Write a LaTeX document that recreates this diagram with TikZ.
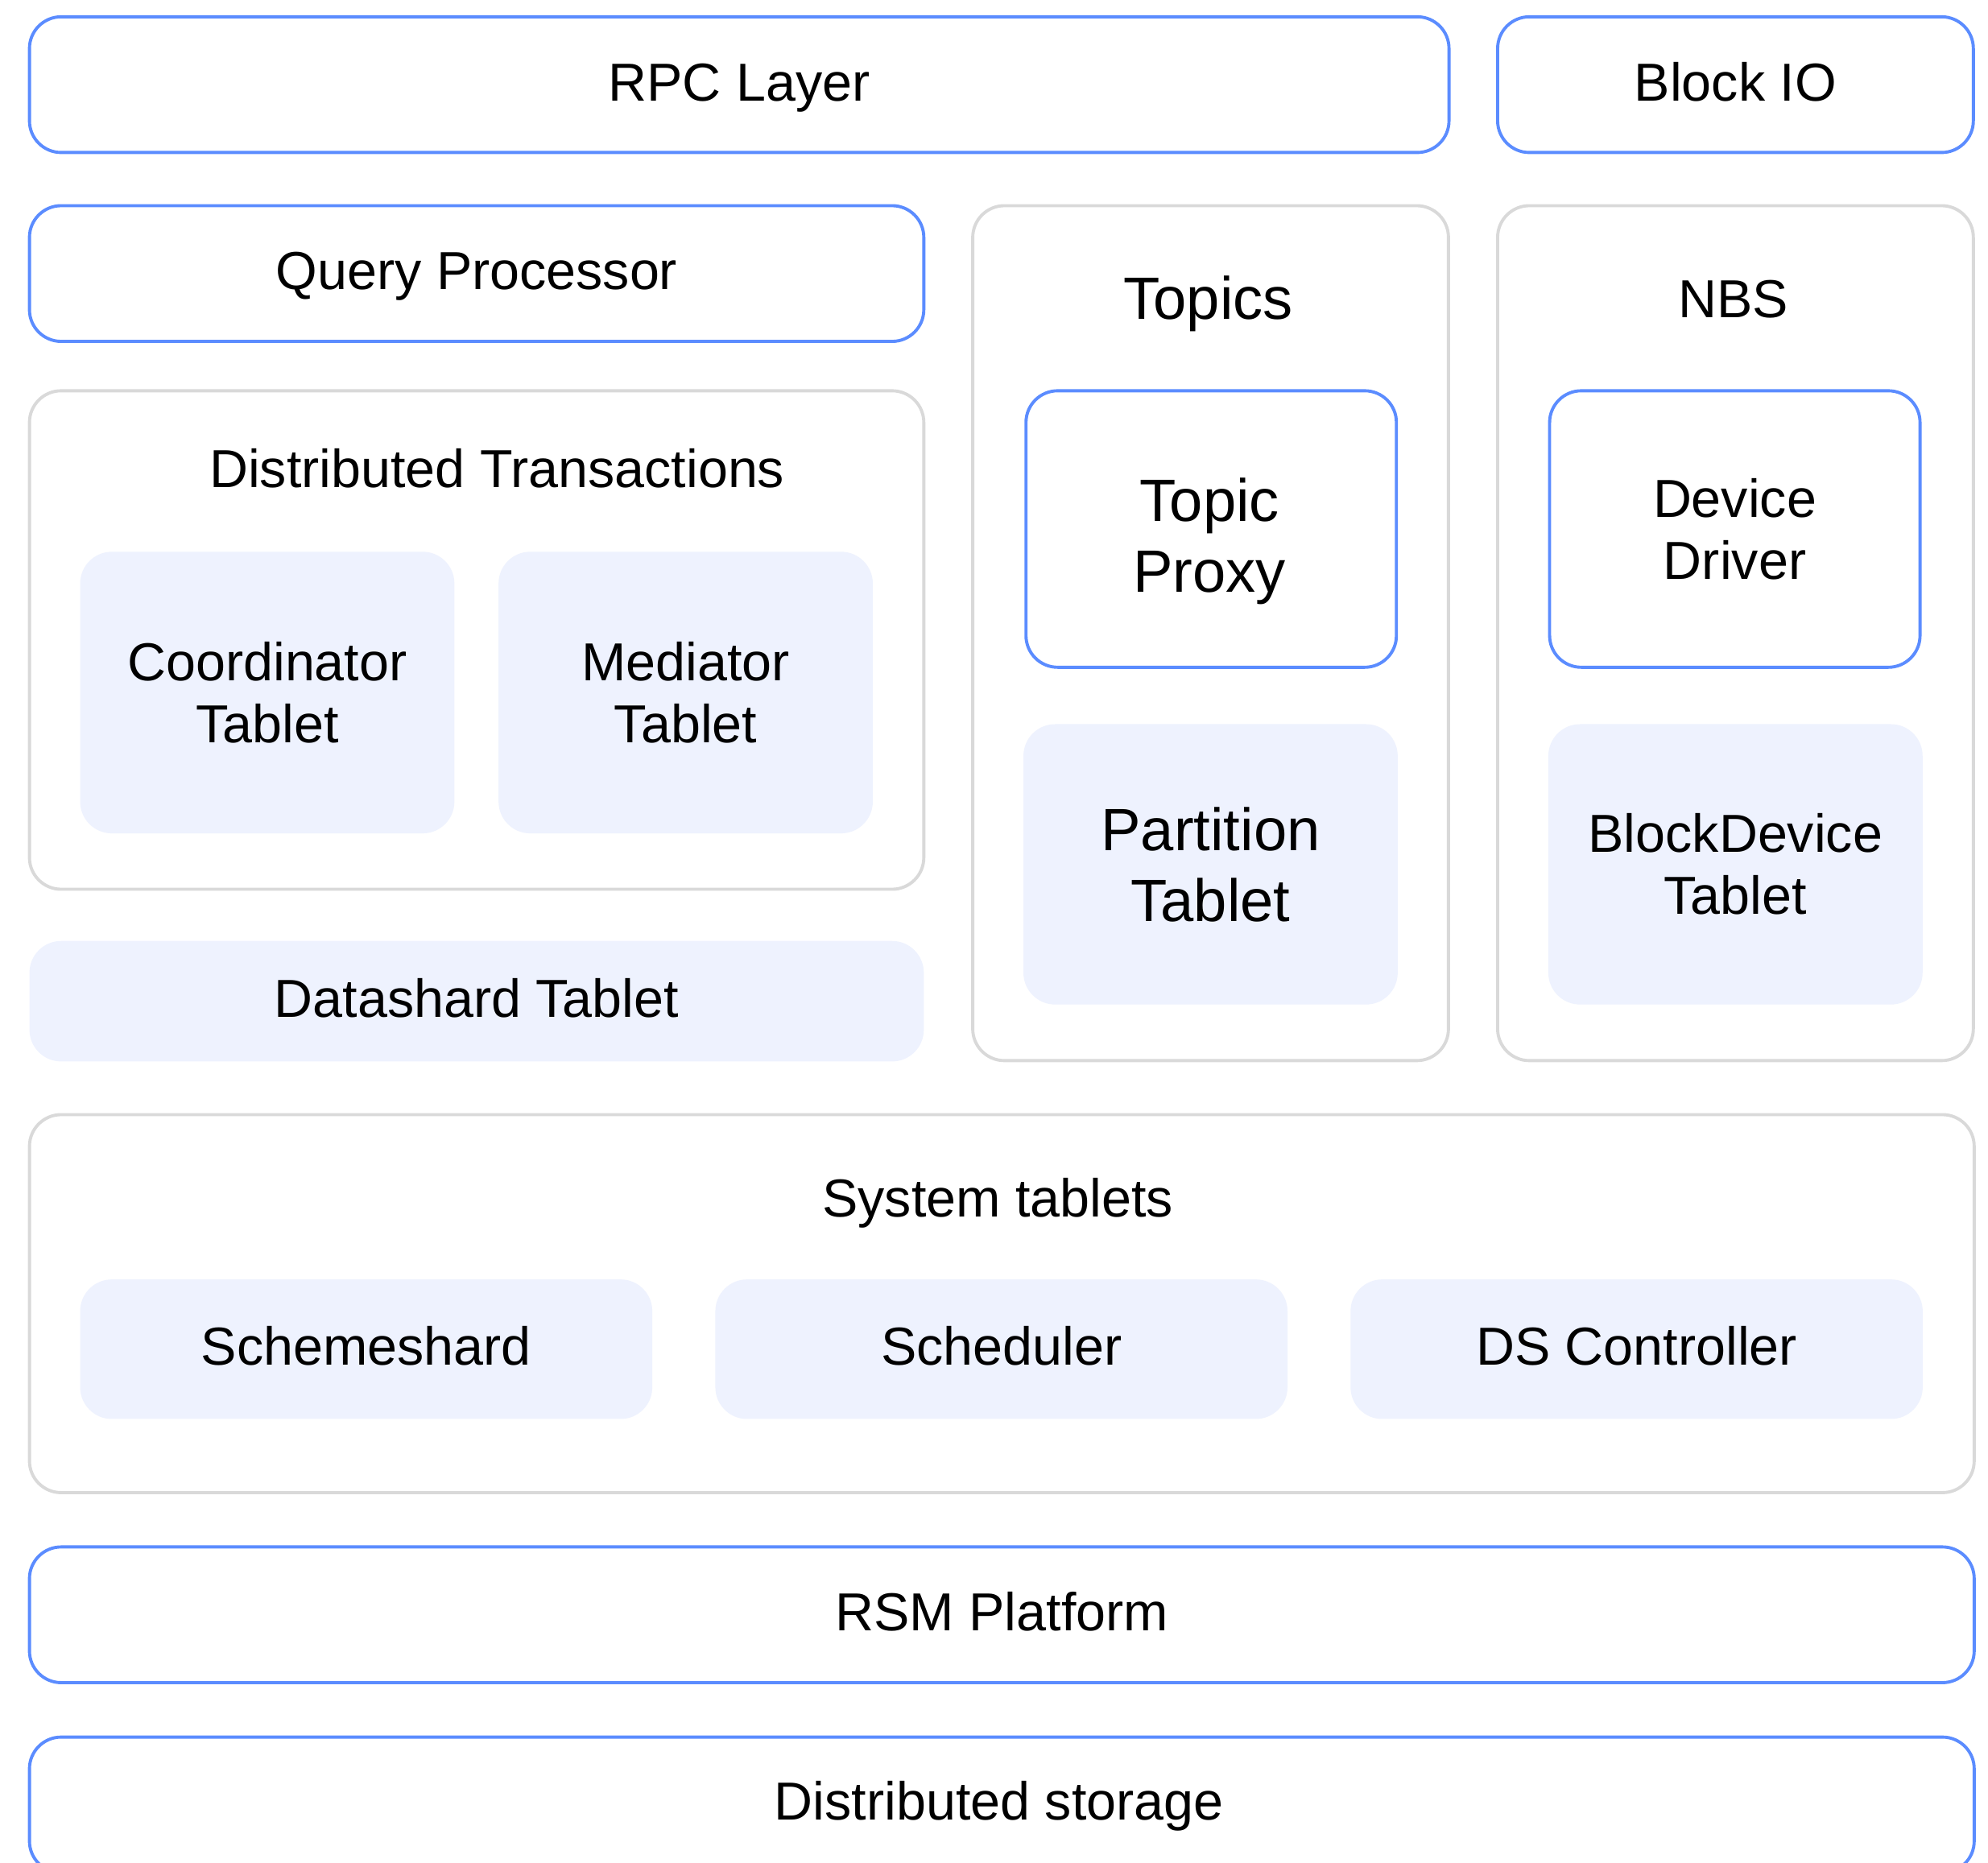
\documentclass[tikz,border=0pt]{standalone}
\usepackage{fontspec}
\setmainfont{Liberation Sans}
\definecolor{bl}{HTML}{5B8CFF}
\definecolor{gr}{HTML}{D9D9D9}
\definecolor{lf}{HTML}{EEF2FE}
\newcommand{\fsn}{\fontsize{12.0}{13.9}\selectfont}
\newcommand{\fsl}{\fontsize{13.4}{15.9}\selectfont}
\begin{document}
\begin{tikzpicture}[x=0.01cm,y=-0.01cm,
  box/.style={rectangle, rounded corners=0.25cm, anchor=north west, inner sep=0pt, line width=0.7pt, font=\fsn},
  one/.style={text height=0.9em, text depth=0.18em},
  two/.style={align=center},
  bluebox/.style={box, draw=bl, fill=white},
  graybox/.style={box, draw=gr, fill=white},
  fillbox/.style={box, fill=lf},
  ttl/.style={inner sep=0pt, font=\fsn, one},
  big/.style={font=\fsl}]
\useasboundingbox (0,0) rectangle (1568,1469);
% row 1
\node[bluebox, one, minimum width=11.19cm, minimum height=1.07cm] (rpc) at (22,12) {RPC Layer};
\node[bluebox, one, minimum width=3.75cm, minimum height=1.07cm] (blockio) at (1180,12) {Block IO};
% row 2
\node[bluebox, one, minimum width=7.05cm, minimum height=1.07cm] (qp) at (22,161) {Query Processor};
\node[graybox, minimum width=3.75cm, minimum height=6.74cm] (topics) at (766,161) {};
\node[ttl, big] (topicsT) at (953,239) {Topics};
\node[graybox, minimum width=3.75cm, minimum height=6.74cm] (nbs) at (1180,161) {};
\node[ttl] (nbsT) at (1367,238) {NBS};
% distributed transactions
\node[graybox, minimum width=7.05cm, minimum height=3.93cm] (dt) at (22,307) {};
\node[ttl] (dtT) at (392,372) {Distributed Transactions};
\node[fillbox, two, minimum width=2.95cm, minimum height=2.22cm] (coord) at (62,434) {Coordinator\\Tablet};
\node[fillbox, two, minimum width=2.95cm, minimum height=2.22cm] (med) at (392,434) {Mediator\\Tablet};
\node[fillbox, one, minimum width=7.05cm, minimum height=0.95cm] (ds) at (22,741) {Datashard Tablet};
% topics inner
\node[bluebox, minimum width=2.92cm, minimum height=2.18cm] (tp) at (808,307) {};
\node[inner sep=0pt, big, align=center] (tpT) at (954,427) {Topic\\Proxy};
\node[fillbox, two, big, minimum width=2.95cm, minimum height=2.21cm] (pt) at (806,570) {Partition\\Tablet};
% nbs inner
\node[bluebox, two, minimum width=2.92cm, minimum height=2.18cm] (dd) at (1221,307) {Device\\Driver};
\node[fillbox, two, minimum width=2.95cm, minimum height=2.21cm] (bdt) at (1220,570) {BlockDevice\\Tablet};
% system tablets
\node[graybox, minimum width=15.33cm, minimum height=2.98cm] (sys) at (22,878) {};
\node[ttl] (sysT) at (787,947) {System tablets};
\node[fillbox, one, minimum width=4.51cm, minimum height=1.10cm] (ss) at (62,1008) {Schemeshard};
\node[fillbox, one, minimum width=4.51cm, minimum height=1.10cm] (sch) at (563,1008) {Scheduler};
\node[fillbox, one, minimum width=4.51cm, minimum height=1.10cm] (dsc) at (1064,1008) {DS Controller};
% bottom
\node[bluebox, one, minimum width=15.33cm, minimum height=1.07cm] (rsm) at (22,1219) {RSM Platform};
\node[bluebox, minimum width=15.33cm, minimum height=1.07cm] (dst) at (22,1369) {};
\node[ttl] (dstT) at (788,1423) {Distributed storage};
\end{tikzpicture}
\end{document}
